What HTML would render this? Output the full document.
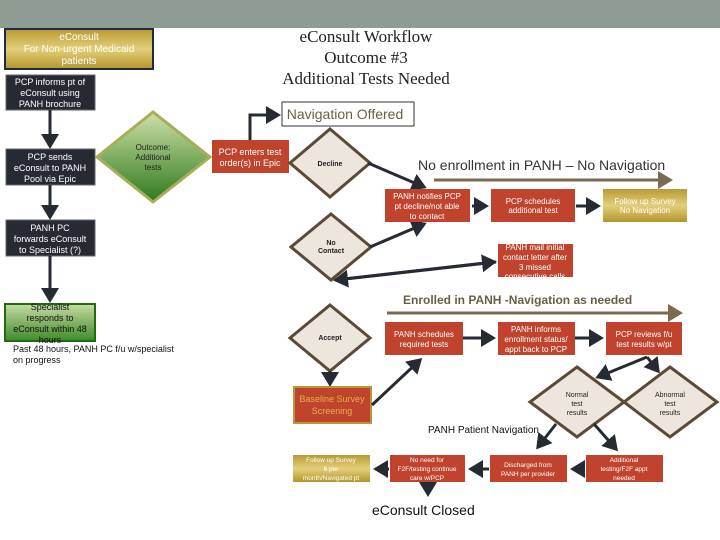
<!DOCTYPE html>
<html><head><meta charset="utf-8"><style>
html,body{margin:0;padding:0;background:#fff;}
svg{display:block;font-family:"Liberation Sans",sans-serif;}
</style></head><body>
<svg width="720" height="540" viewBox="0 0 720 540" xmlns="http://www.w3.org/2000/svg">
<defs>
<linearGradient id="gold" x1="0" y1="0" x2="0" y2="1">
<stop offset="0" stop-color="#b89a32"/><stop offset="0.5" stop-color="#e3cf7a"/><stop offset="1" stop-color="#b3952c"/></linearGradient>
<linearGradient id="grn" x1="0" y1="0" x2="0" y2="1">
<stop offset="0" stop-color="#cfe0a8"/><stop offset="1" stop-color="#2f7a1c"/></linearGradient>
<linearGradient id="grn2" x1="0" y1="0" x2="0" y2="1">
<stop offset="0" stop-color="#c6dba3"/><stop offset="1" stop-color="#3f8a2a"/></linearGradient>
<marker id="ah" markerWidth="6" markerHeight="6" refX="4" refY="3" orient="auto" markerUnits="strokeWidth"><path d="M0,0 L5,3 L0,6 z" fill="#262a33"/></marker>
<marker id="ab" markerWidth="6" markerHeight="6" refX="4" refY="3" orient="auto" markerUnits="strokeWidth"><path d="M0,0 L5,3 L0,6 z" fill="#7a6a4f"/></marker>
</defs>
<rect x="0" y="0" width="720" height="28" fill="#8f9c93"/>

<!-- title -->
<g font-family="Liberation Serif,serif" font-size="17" fill="#222" text-anchor="middle">
<text x="366" y="42">eConsult Workflow</text>
<text x="366" y="63">Outcome #3</text>
<text x="366" y="84">Additional Tests Needed</text>
</g>
<rect x="282" y="102" width="132" height="24" fill="#fff" stroke="#333" stroke-width="1"/>
<text x="345" y="119" font-size="14" fill="#6b5e45" text-anchor="middle">Navigation Offered</text>

<!-- left column -->
<rect x="5" y="29" width="148" height="40" fill="url(#gold)" stroke="#1f2a44" stroke-width="2"/>
<g font-size="10" fill="#fff" text-anchor="middle"><text x="79" y="40">eConsult</text><text x="79" y="52">For Non-urgent Medicaid</text><text x="79" y="64">patients</text></g>

<rect x="6" y="75" width="89" height="35" fill="#262a33" stroke="#666"/>
<g font-size="9" fill="#fff" text-anchor="middle"><text x="50" y="85">PCP informs pt of</text><text x="50" y="96">eConsult using</text><text x="50" y="107">PANH brochure</text></g>
<line x1="50" y1="110" x2="50" y2="146" stroke="#262a33" stroke-width="3" marker-end="url(#ah)"/>
<rect x="6" y="149" width="89" height="36" fill="#262a33" stroke="#666"/>
<g font-size="9" fill="#fff" text-anchor="middle"><text x="50" y="160">PCP sends</text><text x="50" y="171">eConsult to PANH</text><text x="50" y="182">Pool via Epic</text></g>
<line x1="50" y1="185" x2="50" y2="217" stroke="#262a33" stroke-width="3" marker-end="url(#ah)"/>
<rect x="6" y="220" width="89" height="36" fill="#262a33" stroke="#666"/>
<g font-size="9" fill="#fff" text-anchor="middle"><text x="50" y="231">PANH PC</text><text x="50" y="242">forwards eConsult</text><text x="50" y="253">to Specialist (?)</text></g>
<line x1="50" y1="256" x2="50" y2="300" stroke="#262a33" stroke-width="3" marker-end="url(#ah)"/>
<rect x="5" y="304" width="90" height="37" fill="url(#grn2)" stroke="#1f6a12" stroke-width="2"/>
<g font-size="9" fill="#111" text-anchor="middle"><text x="50" y="310">Specialist</text><text x="50" y="321">responds to</text><text x="50" y="332">eConsult within 48</text><text x="50" y="343">hours</text></g>
<g font-size="9" fill="#111"><text x="13" y="352">Past 48 hours, PANH PC f/u w/specialist</text><text x="13" y="363">on progress</text></g>

<!-- green diamond -->
<polygon points="153,112 210,157 153,202 97,157" fill="url(#grn)" stroke="#a8ad5a" stroke-width="3"/>
<g font-size="8" fill="#222" text-anchor="middle"><text x="153" y="150">Outcome:</text><text x="153" y="160">Additional</text><text x="153" y="170">tests</text></g>

<rect x="212" y="140" width="77" height="33" fill="#c0432e"/>
<g font-size="9" fill="#fff" text-anchor="middle"><text x="250" y="155">PCP enters test</text><text x="250" y="166">order(s) in Epic</text></g>
<polyline points="250,140 250,115 278,115" fill="none" stroke="#262a33" stroke-width="3" marker-end="url(#ah)"/>

<!-- diamonds -->
<polygon points="330,129 370,163 330,197 290,163" fill="#ede6dc" stroke="#5a4a36" stroke-width="3"/>
<text x="330" y="166" font-size="7" font-weight="bold" fill="#222" text-anchor="middle">Decline</text>
<polygon points="331,214 371,247 331,280 291,247" fill="#ede6dc" stroke="#5a4a36" stroke-width="3"/>
<g font-size="7" font-weight="bold" fill="#222" text-anchor="middle"><text x="331" y="245">No</text><text x="331" y="253">Contact</text></g>
<polygon points="330,305 370,338 330,371 290,338" fill="#ede6dc" stroke="#5a4a36" stroke-width="3"/>
<text x="330" y="340" font-size="7" font-weight="bold" fill="#222" text-anchor="middle">Accept</text>

<text x="418" y="170" font-size="14" fill="#333">No enrollment in PANH – No Navigation</text>
<line x1="434" y1="180" x2="670" y2="180" stroke="#7a6a4f" stroke-width="3" marker-end="url(#ab)"/>

<line x1="368" y1="163" x2="424" y2="187" stroke="#262a33" stroke-width="3" marker-end="url(#ah)"/>
<line x1="370" y1="247" x2="424" y2="224" stroke="#262a33" stroke-width="3" marker-end="url(#ah)"/>

<rect x="385" y="189" width="85" height="33" fill="#c0432e"/>
<g font-size="8" fill="#fff" text-anchor="middle"><text x="427" y="199">PANH notifies PCP</text><text x="427" y="209">pt decline/not able</text><text x="427" y="219">to contact</text></g>
<line x1="472" y1="206" x2="486" y2="206" stroke="#262a33" stroke-width="3" marker-end="url(#ah)"/>
<rect x="491" y="189" width="84" height="33" fill="#c0432e"/>
<g font-size="8" fill="#fff" text-anchor="middle"><text x="533" y="204">PCP schedules</text><text x="533" y="213">additional test</text></g>
<line x1="576" y1="206" x2="598" y2="206" stroke="#262a33" stroke-width="3" marker-end="url(#ah)"/>
<rect x="603" y="189" width="84" height="33" fill="url(#gold)"/>
<g font-size="8" fill="#fff" text-anchor="middle"><text x="645" y="204">Follow up Survey</text><text x="645" y="213">No Navigation</text></g>

<rect x="498" y="244" width="75" height="33" fill="#c0432e"/>
<g font-size="8" fill="#fff" text-anchor="middle"><text x="535" y="250">PANH mail initial</text><text x="535" y="260">contact letter after</text><text x="535" y="270">3 missed</text><text x="535" y="279">consecutive calls</text></g>
<line x1="496" y1="262" x2="336" y2="280" stroke="#262a33" stroke-width="3" marker-end="url(#ah)"/>
<line x1="335" y1="280" x2="494" y2="262" stroke="#262a33" stroke-width="3" marker-end="url(#ah)"/>

<text x="403" y="304" font-size="12" font-weight="bold" fill="#6b5e45">Enrolled in PANH -Navigation as needed</text>
<line x1="387" y1="313" x2="680" y2="313" stroke="#7a6a4f" stroke-width="3" marker-end="url(#ab)"/>

<rect x="385" y="322" width="78" height="33" fill="#c0432e"/>
<g font-size="8" fill="#fff" text-anchor="middle"><text x="424" y="337">PANH schedules</text><text x="424" y="347">required tests</text></g>
<line x1="463" y1="338" x2="493" y2="338" stroke="#262a33" stroke-width="3" marker-end="url(#ah)"/>
<rect x="498" y="322" width="77" height="33" fill="#c0432e"/>
<g font-size="8" fill="#fff" text-anchor="middle"><text x="536" y="332">PANH informs</text><text x="536" y="342">enrollment status/</text><text x="536" y="352">appt back to PCP</text></g>
<line x1="575" y1="338" x2="601" y2="338" stroke="#262a33" stroke-width="3" marker-end="url(#ah)"/>
<rect x="606" y="322" width="76" height="33" fill="#c0432e"/>
<g font-size="8" fill="#fff" text-anchor="middle"><text x="644" y="337">PCP reviews f/u</text><text x="644" y="347">test results w/pt</text></g>

<line x1="330" y1="371" x2="330" y2="384" stroke="#262a33" stroke-width="3" marker-end="url(#ah)"/>
<rect x="294" y="387" width="77" height="36" fill="#c0432e" stroke="#b8963a" stroke-width="2"/>
<g font-size="9" fill="#e0b24a" text-anchor="middle"><text x="332" y="402">Baseline Survey</text><text x="332" y="414">Screening</text></g>
<line x1="372" y1="405" x2="420" y2="360" stroke="#262a33" stroke-width="3" marker-end="url(#ah)"/>

<line x1="647" y1="357" x2="598" y2="377" stroke="#262a33" stroke-width="3" marker-end="url(#ah)"/>
<line x1="647" y1="357" x2="658" y2="371" stroke="#262a33" stroke-width="3" marker-end="url(#ah)"/>
<polygon points="577,367 624,402 577,437 530,402" fill="#ede6dc" stroke="#5a4a36" stroke-width="3"/>
<polygon points="670,367 717,402 670,437 624,402" fill="#ede6dc" stroke="#5a4a36" stroke-width="3"/>
<g font-size="7" fill="#222" text-anchor="middle"><text x="577" y="397">Normal</text><text x="577" y="406">test</text><text x="577" y="415">results</text>
<text x="670" y="397">Abnormal</text><text x="670" y="406">test</text><text x="670" y="415">results</text></g>

<text x="428" y="433" font-size="10" fill="#111">PANH Patient Navigation</text>
<line x1="556" y1="424" x2="538" y2="447" stroke="#262a33" stroke-width="3" marker-end="url(#ah)"/>
<line x1="594" y1="424" x2="616" y2="449" stroke="#262a33" stroke-width="3" marker-end="url(#ah)"/>

<rect x="293" y="455" width="77" height="27" fill="url(#gold)"/>
<g font-size="6.5" fill="#fff" text-anchor="middle"><text x="331" y="462">Follow up Survey</text><text x="331" y="471">6 per</text><text x="331" y="480">month/Navigated pt</text></g>
<rect x="390" y="455" width="75" height="27" fill="#c0432e"/>
<g font-size="6.5" fill="#fff" text-anchor="middle"><text x="427" y="462">No need for</text><text x="427" y="471">F2F/testing continue</text><text x="427" y="480">care w/PCP</text></g>
<rect x="490" y="455" width="77" height="27" fill="#c0432e"/>
<g font-size="6.5" fill="#fff" text-anchor="middle"><text x="528" y="467">Discharged from</text><text x="528" y="476">PANH per provider</text></g>
<rect x="586" y="455" width="77" height="27" fill="#c0432e"/>
<g font-size="6.5" fill="#fff" text-anchor="middle"><text x="624" y="462">Additional</text><text x="624" y="471">testing/F2F appt</text><text x="624" y="480">needed</text></g>
<line x1="585" y1="469" x2="573" y2="469" stroke="#262a33" stroke-width="3" marker-end="url(#ah)"/>
<line x1="489" y1="469" x2="471" y2="469" stroke="#262a33" stroke-width="3" marker-end="url(#ah)"/>
<line x1="389" y1="469" x2="376" y2="469" stroke="#262a33" stroke-width="3" marker-end="url(#ah)"/>
<line x1="428" y1="482" x2="428" y2="494" stroke="#262a33" stroke-width="3" marker-end="url(#ah)"/>
<text x="372" y="515" font-size="14" fill="#111">eConsult Closed</text>
</svg>
</body></html>
